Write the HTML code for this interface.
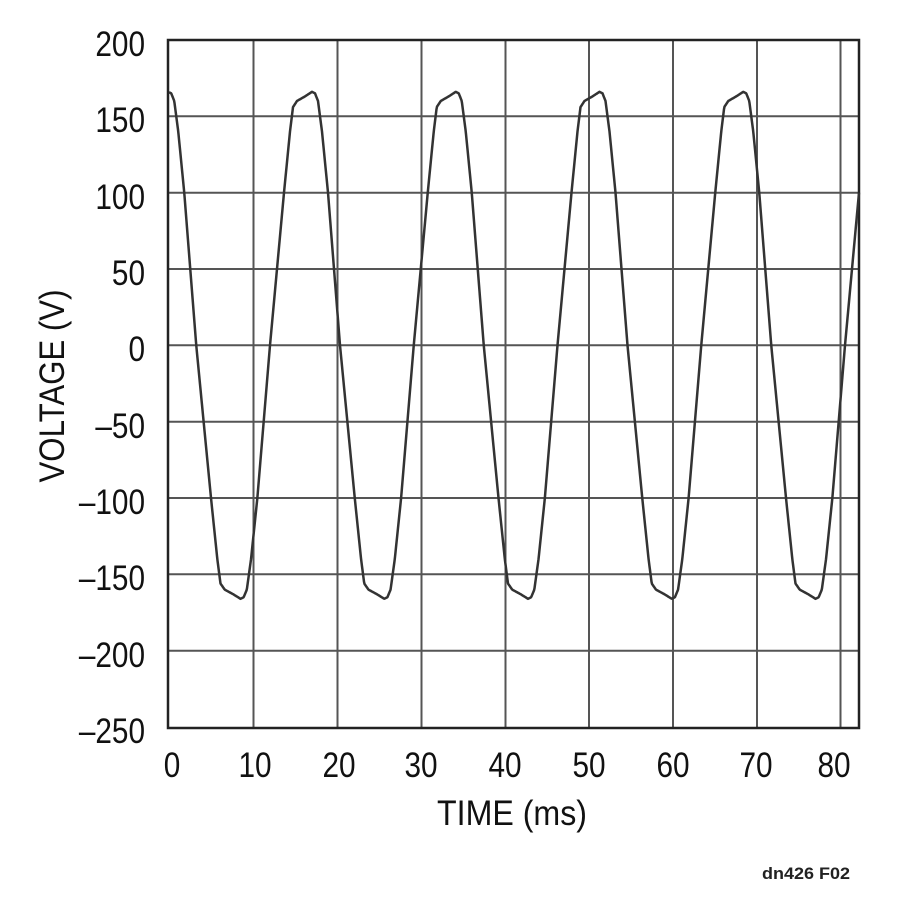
<!DOCTYPE html>
<html><head><meta charset="utf-8"><style>
html,body{margin:0;padding:0;background:#fff;}
svg{display:block;font-family:"Liberation Sans",sans-serif;}
</style></head><body>
<svg id="s" width="900" height="906" viewBox="0 0 900 906" xmlns="http://www.w3.org/2000/svg">
<g stroke="#555" stroke-width="2">
<line x1="168" y1="116.3" x2="859" y2="116.3"/>
<line x1="168" y1="192.7" x2="859" y2="192.7"/>
<line x1="168" y1="269" x2="859" y2="269"/>
<line x1="168" y1="345.3" x2="859" y2="345.3"/>
<line x1="168" y1="421.7" x2="859" y2="421.7"/>
<line x1="168" y1="498" x2="859" y2="498"/>
<line x1="168" y1="574.3" x2="859" y2="574.3"/>
<line x1="168" y1="650.7" x2="859" y2="650.7"/>
<line x1="253.5" y1="40" x2="253.5" y2="728"/>
<line x1="337.5" y1="40" x2="337.5" y2="728"/>
<line x1="421.5" y1="40" x2="421.5" y2="728"/>
<line x1="505.5" y1="40" x2="505.5" y2="728"/>
<line x1="589" y1="40" x2="589" y2="728"/>
<line x1="673" y1="40" x2="673" y2="728"/>
<line x1="757" y1="40" x2="757" y2="728"/>
<line x1="840.5" y1="40" x2="840.5" y2="728"/>
</g>
<rect x="168" y="40" width="691" height="688" fill="none" stroke="#222" stroke-width="2.5"/>
<polyline id="w" fill="none" stroke="#333" stroke-width="2.5" stroke-linejoin="round" points=""/>
<g font-size="35" fill="#111" text-anchor="end" transform="translate(145,0) scale(0.85,1) translate(-145,0)">
<text x="145" y="56">200</text>
<text x="145" y="132">150</text>
<text x="145" y="209">100</text>
<text x="145" y="285">50</text>
<text x="145" y="361">0</text>
<text x="145" y="438">–50</text>
<text x="145" y="514">–100</text>
<text x="145" y="590">–150</text>
<text x="145" y="667">–200</text>
<text x="145" y="743">–250</text>
</g>
<g font-size="35" fill="#111" text-anchor="middle">
<text x="172" y="777" transform="translate(172,0) scale(0.85,1) translate(-172,0)">0</text>
<text x="255" y="777" transform="translate(255,0) scale(0.85,1) translate(-255,0)">10</text>
<text x="339" y="777" transform="translate(339,0) scale(0.85,1) translate(-339,0)">20</text>
<text x="421" y="777" transform="translate(421,0) scale(0.85,1) translate(-421,0)">30</text>
<text x="505" y="777" transform="translate(505,0) scale(0.85,1) translate(-505,0)">40</text>
<text x="589" y="777" transform="translate(589,0) scale(0.85,1) translate(-589,0)">50</text>
<text x="673" y="777" transform="translate(673,0) scale(0.85,1) translate(-673,0)">60</text>
<text x="756" y="777" transform="translate(756,0) scale(0.85,1) translate(-756,0)">70</text>
<text x="834" y="777" transform="translate(834,0) scale(0.85,1) translate(-834,0)">80</text>
<text x="512" y="825" textLength="150" lengthAdjust="spacingAndGlyphs">TIME (ms)</text>
<text transform="translate(64,386) rotate(-90)" textLength="193" lengthAdjust="spacingAndGlyphs">VOLTAGE (V)</text>
</g>
<text x="806" y="879" font-size="17" font-weight="bold" fill="#222" text-anchor="middle" textLength="88" lengthAdjust="spacingAndGlyphs">dn426 F02</text>
</svg>
<script>
(function(){
var P=[[0,0],[7,50],[14,100],[20,140],[23,156],[27,160],[35,163],[42,166],[45,165],[48,160],[52,140],[58,100],[64,50],[70,0]];
var per=143.75, half=70, nh=per-half;
function f(o){
  var sgn=1, t=o;
  if(o>=half){sgn=-1;t=(o-half)*70/nh;}
  for(var i=1;i<P.length;i++){ if(t<=P[i][0]){var a=P[i-1],b=P[i];return sgn*(a[1]+(b[1]-a[1])*(t-a[0])/(b[0]-a[0]));}}
  return 0;
}
var u0=270, pts=[];
for(var x=169;x<=859;x+=0.5){
  var o=((x-u0)%per+per)%per;
  var v=f(o);
  var y=345.3-v*1.527;
  pts.push(x.toFixed(1)+","+y.toFixed(1));
}
document.getElementById("w").setAttribute("points",pts.join(" "));
})();
</script>
</body></html>
